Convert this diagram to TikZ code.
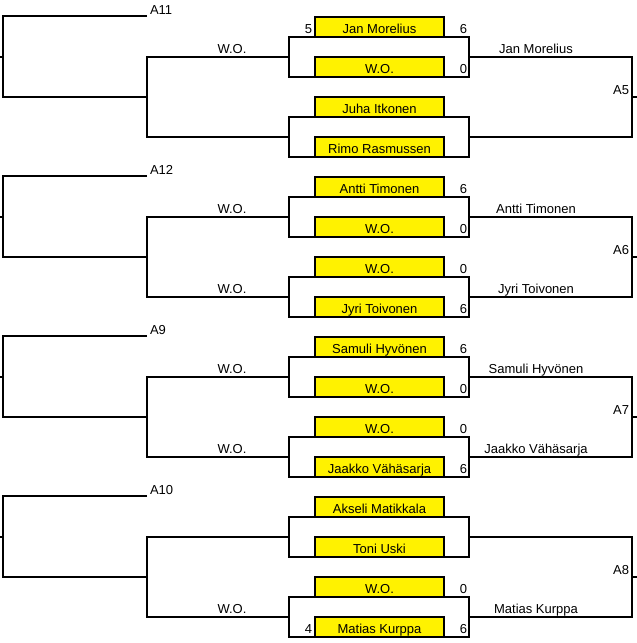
\documentclass[tikz,border=0pt]{standalone}
\usepackage{fontspec}
\setmainfont{Liberation Sans}
\newcommand\bracketblock[2]{%
\begin{scope}[shift={(0,#1)}]
  % left bracket
  \coordinate (#2la) at (147,16);
  \coordinate (#2lb) at (147,97);
  \coordinate (#2lc) at (3,57);
  \draw (0,57) -- (#2lc);
  \draw (#2la) -- (3,16) -- (3,97) -- (#2lb);
  % player boxes
  \node[pbox] (#2p1) at (315,17) {};
  \node[pbox] (#2p2) at (315,57) {};
  \node[pbox] (#2p3) at (315,97) {};
  \node[pbox] (#2p4) at (315,137) {};
  % match boxes
  \node[mbox] (#2m1) at (289,37) {};
  \node[mbox] (#2m2) at (289,117) {};
  % second round lines
  \draw (#2m1.west) -- (147,57) -- (147,137) -- (#2m2.west);
  % right bracket
  \coordinate (#2r) at (632,97);
  \draw (#2m1.east) -- (632,57) -- (632,137) -- (#2m2.east);
  \draw (#2r) -- (637,97);
\end{scope}}
\begin{document}
\begin{tikzpicture}[x=1pt,y=-1pt,line width=2pt,
  pbox/.style={draw,fill=yellow,line width=2pt,minimum width=129pt,minimum height=20pt,inner sep=0pt,outer sep=0pt,anchor=north west},
  mbox/.style={draw,line width=2pt,minimum width=180pt,minimum height=40pt,inner sep=0pt,outer sep=0pt,anchor=north west},
  lbl/.style={font=\fontsize{13}{15}\selectfont,inner sep=0pt,outer sep=0pt},
  nm/.style={lbl,anchor=base},
  sl/.style={lbl,anchor=base east},
  al/.style={lbl,anchor=base west},
]
\useasboundingbox (0,0) rectangle (637,643);

\bracketblock{0}{a}
\bracketblock{160}{b}
\bracketblock{320}{c}
\bracketblock{480}{d}

% ---- block 1
\node[al] at (150,14) {A11};
\node[nm] at (232,53) {W.O.};
\node[nm] at (379.5,33) {Jan Morelius};
\node[nm] at (379.5,73) {W.O.};
\node[nm] at (379.5,113) {Juha Itkonen};
\node[nm] at (379.5,153) {Rimo Rasmussen};
\node[sl] at (312,33) {5};
\node[sl] at (467,33) {6};
\node[sl] at (467,73) {0};
\node[nm] at (536,53) {Jan Morelius};
\node[sl] at (629,94) {A5};

% ---- block 2
\node[al] at (150,174) {A12};
\node[nm] at (232,213) {W.O.};
\node[nm] at (232,293) {W.O.};
\node[nm] at (379.5,193) {Antti Timonen};
\node[nm] at (379.5,233) {W.O.};
\node[nm] at (379.5,273) {W.O.};
\node[nm] at (379.5,313) {Jyri Toivonen};
\node[sl] at (467,193) {6};
\node[sl] at (467,233) {0};
\node[sl] at (467,273) {0};
\node[sl] at (467,313) {6};
\node[nm] at (536,213) {Antti Timonen};
\node[nm] at (536,293) {Jyri Toivonen};
\node[sl] at (629,254) {A6};

% ---- block 3
\node[al] at (150,334) {A9};
\node[nm] at (232,373) {W.O.};
\node[nm] at (232,453) {W.O.};
\node[nm] at (379.5,353) {Samuli Hyvönen};
\node[nm] at (379.5,393) {W.O.};
\node[nm] at (379.5,433) {W.O.};
\node[nm] at (379.5,473) {Jaakko Vähäsarja};
\node[sl] at (467,353) {6};
\node[sl] at (467,393) {0};
\node[sl] at (467,433) {0};
\node[sl] at (467,473) {6};
\node[nm] at (536,373) {Samuli Hyvönen};
\node[nm] at (536,453) {Jaakko Vähäsarja};
\node[sl] at (629,414) {A7};

% ---- block 4
\node[al] at (150,494) {A10};
\node[nm] at (232,613) {W.O.};
\node[nm] at (379.5,513) {Akseli Matikkala};
\node[nm] at (379.5,553) {Toni Uski};
\node[nm] at (379.5,593) {W.O.};
\node[nm] at (379.5,633) {Matias Kurppa};
\node[sl] at (467,593) {0};
\node[sl] at (467,633) {6};
\node[sl] at (312,633) {4};
\node[nm] at (536,613) {Matias Kurppa};
\node[sl] at (629,574) {A8};
\end{tikzpicture}
\end{document}
